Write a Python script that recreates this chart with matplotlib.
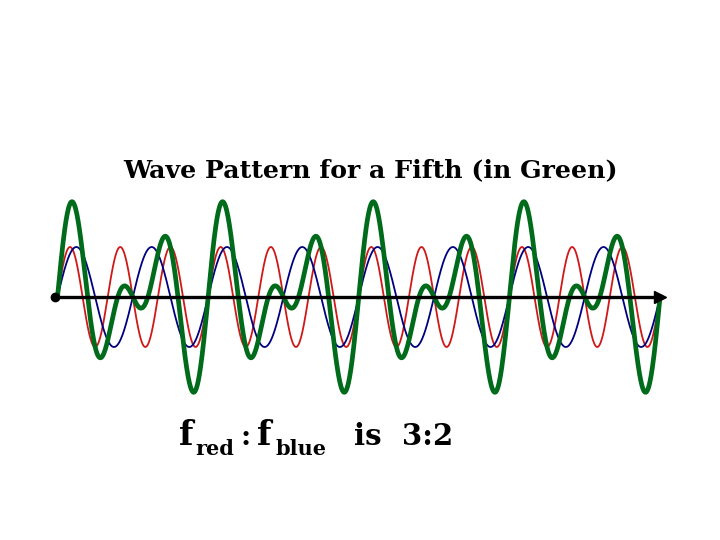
import numpy as np
import matplotlib
matplotlib.use("Agg")
import matplotlib.pyplot as plt

# wave definition: red 3 cycles for every 2 of blue, over 8 blue cycles
span = 24.0
red_period = 2.0
blue_period = 3.0
ratio_label = "3:2"
title = "Wave Pattern for a Fifth (in Green)"

x = np.linspace(0, span, 1500)
red = np.sin(2 * np.pi * x / red_period)
blue = np.sin(2 * np.pi * x / blue_period)
green = red + blue

W, H = 720, 540
fig = plt.figure(figsize=(W / 100, H / 100), dpi=100)
ax = fig.add_axes([0, 0, 1, 1])

# pixel mapping: x=0 -> 57.5px, x=24 -> 660px ; y=0 -> 297px from top, 50 px per unit
px_per_x = (660 - 57.5) / span
px_per_y = 50.0
ax.set_xlim(-57.5 / px_per_x, (W - 57.5) / px_per_x)
ax.set_ylim(-(H - 297) / px_per_y, 297 / px_per_y)
ax.axis("off")

ax.plot(x, red, color="#d01818", lw=1.3, zorder=2)
ax.plot(x, blue, color="#000080", lw=1.3, zorder=3)
ax.plot(x, green, color="#006b1a", lw=3.4, zorder=4)

# baseline axis with dot and arrow head
ax.plot([-0.1, 24.0], [0, 0], color="black", lw=2.4, zorder=5)
ax.plot([-0.1], [0], marker="o", ms=6, color="black", zorder=6)
ax.plot([24.0], [0], marker=">", ms=8, color="black", zorder=6)


def px(xp, yp):
    return xp / W, 1 - yp / H


serif = "DejaVu Serif"
fig.text(*px(371, 177), title, ha="center", va="baseline",
         fontsize=18.2, fontweight="bold", family=serif)

fig.text(*px(179, 445), "f", ha="left", va="baseline", fontsize=24,
         fontweight="bold", family=serif)
fig.text(*px(195, 455), "red", ha="left", va="baseline", fontsize=15,
         fontweight="bold", family=serif)
fig.text(*px(241, 445), ":", ha="left", va="baseline", fontsize=20,
         fontweight="bold", family=serif)
fig.text(*px(257, 445), "f", ha="left", va="baseline", fontsize=24,
         fontweight="bold", family=serif)
fig.text(*px(275, 455), "blue", ha="left", va="baseline", fontsize=15,
         fontweight="bold", family=serif)
fig.text(*px(354, 445), "is", ha="left", va="baseline", fontsize=21,
         fontweight="bold", family=serif)
fig.text(*px(402, 445), ratio_label, ha="left", va="baseline", fontsize=21,
         fontweight="bold", family=serif)

fig.savefig("out.png", dpi=100)
